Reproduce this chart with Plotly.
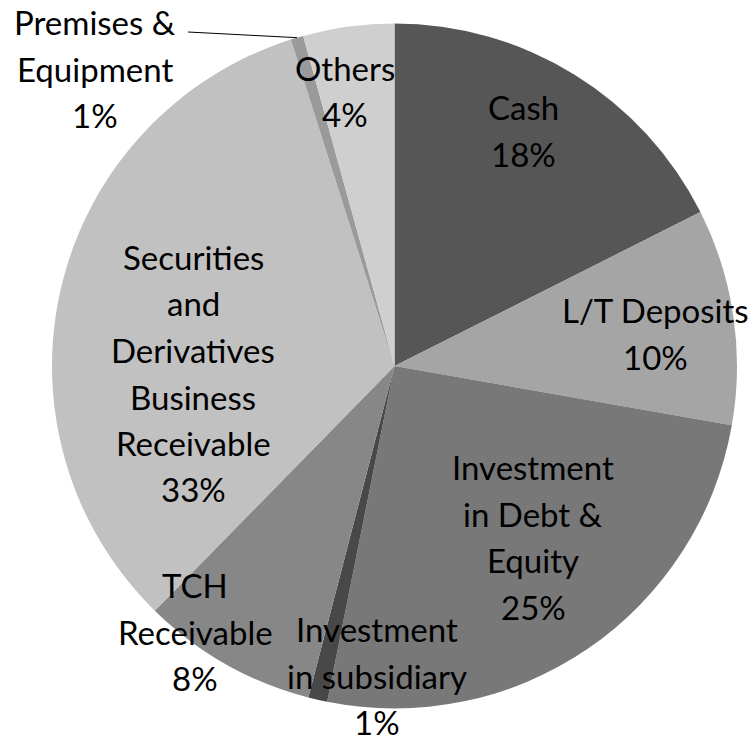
import math
import plotly.graph_objects as go

W, H = 756, 741

# --- data (clockwise from 12 o'clock) ---
labels = ["Cash", "L/T Deposits", "Investment in Debt & Equity",
          "Investment in subsidiary", "TCH Receivable",
          "Securities and Derivatives Business Receivable",
          "Premises & Equipment", "Others"]
values = [17.6, 10.2, 25.4, 0.9, 8.3, 32.8, 0.6, 4.3]
colors = ["#565656", "#a5a5a5", "#787878", "#484848", "#878787",
          "#c1c1c1", "#9a9a9a", "#cfcfcf"]

# label text lines as laid out in the original chart
label_lines = [
    ["Cash"],
    ["L/T Deposits"],
    ["Investment", "in Debt &", "Equity"],
    ["Investment", "in subsidiary"],
    ["TCH", "Receivable"],
    ["Securities", "and", "Derivatives", "Business", "Receivable"],
    ["Premises &", "Equipment"],
    ["Others"],
]
# first-line centre of each label block, in pixels
label_pos = [(523, 107), (655, 310), (533, 467), (377, 629),
             (195, 585), (193, 257), (95, 22), (345, 68)]
LINE_H = 46.5

# pie geometry in pixels
CX, CY, R = 394.5, 366, 342.5

total = sum(values)
pcts = [v / total * 100 for v in values]

fig = go.Figure()

fig.add_trace(go.Pie(
    labels=labels,
    values=values,
    sort=False,
    direction="clockwise",
    rotation=0,
    marker=dict(colors=colors, line=dict(width=0)),
    textinfo="none",
    hoverinfo="label+percent",
    showlegend=False,
    domain=dict(x=[(CX - R) / W, (CX + R) / W],
                y=[1 - (CY + R) / H, 1 - (CY - R) / H]),
))

annotations = []
for lines, (px, py), p in zip(label_lines, label_pos, pcts):
    for i, t in enumerate(lines + [f"{round(p)}%"]):
        annotations.append(dict(
            xref="paper", yref="paper",
            x=px / W, y=1 - (py + i * LINE_H) / H,
            text=t, showarrow=False,
            xanchor="center", yanchor="middle",
            font=dict(family="Lato, Open Sans, sans-serif", size=33, color="#000000"),
        ))

# leader line for Premises & Equipment
cum = sum(pcts[:6]) + pcts[6] / 2
ang = math.radians(cum * 3.6)
ex, ey = CX + R * math.sin(ang), CY - R * math.cos(ang)
fig.add_shape(type="line", xref="paper", yref="paper",
              x0=188 / W, y0=1 - 32 / H, x1=ex / W, y1=1 - ey / H,
              line=dict(color="#000000", width=1))

fig.update_layout(
    width=W, height=H,
    margin=dict(l=0, r=0, t=0, b=0),
    paper_bgcolor="white",
    plot_bgcolor="white",
    annotations=annotations,
)

fig.write_html("out.html", config={"displayModeBar": False},
               post_script="document.body.style.margin='0px';document.body.style.overflow='hidden';")
